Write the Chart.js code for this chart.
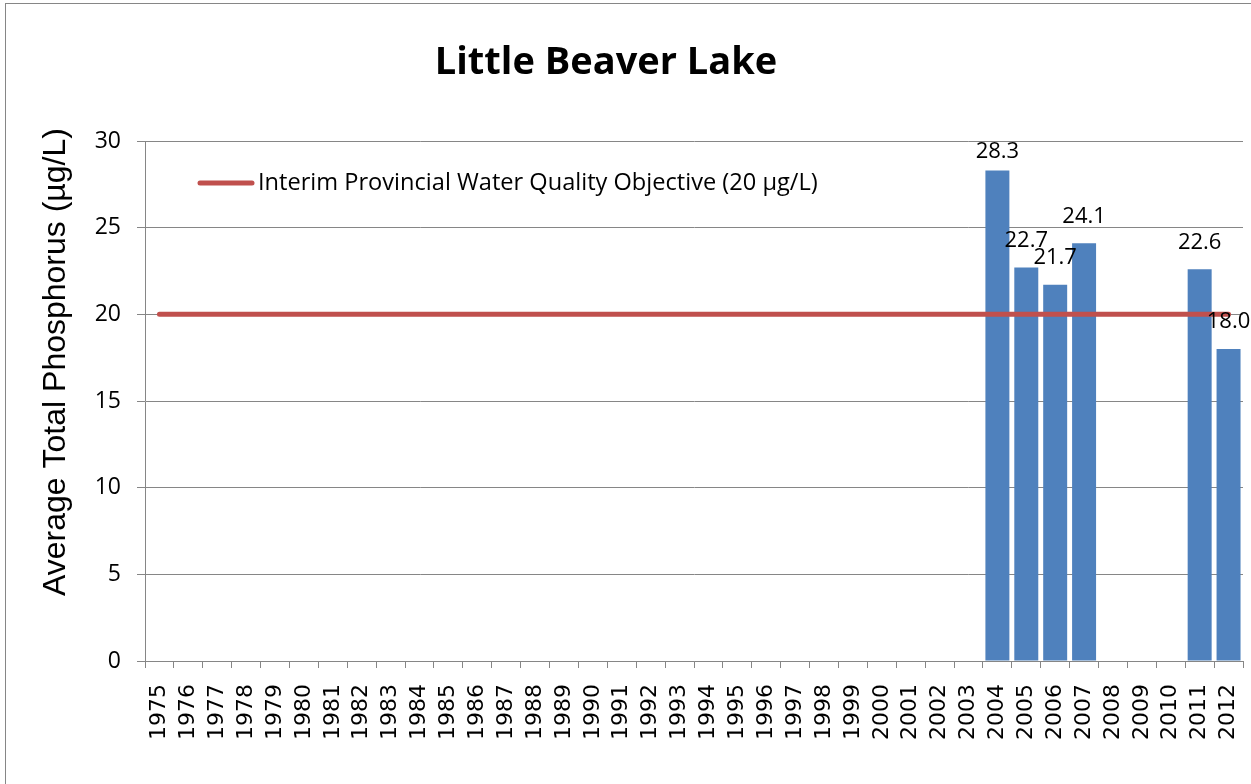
<!DOCTYPE html>
<html>
<head>
<meta charset="utf-8">
<script src="https://cdn.jsdelivr.net/npm/chart.js@4"></script>
<style>
  body { margin: 0; background: #fff; }
  #wrap { width: 1251px; height: 784px; position: relative; }
</style>
</head>
<body>
<div id="wrap"><canvas id="chart"></canvas></div>
<script>
const chartTitle = 'Little Beaver Lake';
const yAxisTitle = 'Average Total Phosphorus (µg/L)';
const years = ['1975', '1976', '1977', '1978', '1979', '1980', '1981', '1982', '1983', '1984',
    '1985', '1986', '1987', '1988', '1989', '1990', '1991', '1992', '1993', '1994',
    '1995', '1996', '1997', '1998', '1999', '2000', '2001', '2002', '2003', '2004',
    '2005', '2006', '2007', '2008', '2009', '2010', '2011', '2012'];
const phosphorus = [null, null, null, null, null, null, null, null, null, null,
    null, null, null, null, null, null, null, null, null, null,
    null, null, null, null, null, null, null, null, null, 28.3,
    22.7, 21.7, 24.1, null, null, null, 22.6, 18.0];
const objectiveLabel = 'Interim Provincial Water Quality Objective (20 µg/L)';
const objective = [20, 20, 20, 20, 20, 20, 20, 20, 20, 20,
    20, 20, 20, 20, 20, 20, 20, 20, 20, 20,
    20, 20, 20, 20, 20, 20, 20, 20, 20, 20,
    20, 20, 20, 20, 20, 20, 20, 20];
const yTicks = [0, 5, 10, 15, 20, 25, 30];

const GRAY = '#868686';

// border, title, y axis title, legend and value labels
const extras = {
    id: 'extras',
    beforeDraw(chart) {
        const ctx = chart.ctx;
        ctx.save();
        ctx.fillStyle = '#fff';
        ctx.fillRect(0, 0, chart.width, chart.height);
        ctx.strokeStyle = GRAY;
        ctx.lineWidth = 1;
        ctx.strokeRect(5.5, 3.5, 1300, 900);
        ctx.restore();
    },
    afterDraw(chart) {
        const ctx = chart.ctx;
        const area = chart.chartArea;
        ctx.save();
        ctx.fillStyle = '#000';
        ctx.textAlign = 'center';
        ctx.textBaseline = 'middle';
        ctx.font = 'bold 38px "Open Sans"';
        ctx.fillText(chartTitle, 606, 63);

        ctx.save();
        ctx.translate(56, 362);
        ctx.rotate(-Math.PI / 2);
        ctx.font = '32px "Liberation Sans"';
        ctx.fillText(yAxisTitle, 0, 0);
        ctx.restore();

        // legend
        const line = chart.data.datasets[1];
        ctx.strokeStyle = line.borderColor;
        ctx.lineWidth = 5;
        ctx.lineCap = 'round';
        ctx.beginPath();
        ctx.moveTo(area.left + 55, area.top + 42);
        ctx.lineTo(area.left + 107, area.top + 42);
        ctx.stroke();
        ctx.textAlign = 'left';
        ctx.font = '23.6px "Open Sans"';
        ctx.fillText(line.label, area.left + 113, area.top + 42);

        // value labels
        const meta = chart.getDatasetMeta(0);
        ctx.textAlign = 'center';
        ctx.font = '22px "Open Sans"';
        meta.data.forEach((bar, i) => {
            const v = chart.data.datasets[0].data[i];
            if (v == null) return;
            const y = Math.max(bar.y - 27, area.top + 11);
            ctx.fillText(v.toFixed(1), bar.x, y);
        });
        ctx.restore();
    }
};

new Chart(document.getElementById('chart'), {
    data: {
        labels: years,
        datasets: [{
            type: 'bar',
            label: 'Average Total Phosphorus',
            data: phosphorus,
            backgroundColor: '#4F81BD',
            categoryPercentage: 1,
            barPercentage: 0.83,
            order: 2
        }, {
            type: 'line',
            label: objectiveLabel,
            data: objective,
            borderColor: '#C0504D',
            borderWidth: 5,
            borderCapStyle: 'round',
            pointRadius: 0,
            fill: false,
            order: 1
        }]
    },
    options: {
        responsive: true,
        maintainAspectRatio: false,
        animation: false,
        layout: { padding: { top: 141, right: 8, bottom: 0, left: 0 } },
        plugins: {
            legend: { display: false },
            tooltip: { enabled: false },
            title: { display: false }
        },
        scales: {
            x: {
                offset: true,
                grid: { offset: true, drawOnChartArea: false, drawTicks: true, tickLength: 7, color: GRAY },
                border: { color: GRAY },
                ticks: {
                    autoSkip: false, minRotation: 90, maxRotation: 90, padding: 16,
                    color: '#000', font: { family: 'DejaVu Sans', size: 22 }
                },
                afterFit(s) {
                    s.height = 123;
                    s.paddingLeft = 0;
                    s.paddingRight = 0;
                }
            },
            y: {
                min: 0,
                max: 30,
                afterBuildTicks(s) { s.ticks = yTicks.map(v => ({ value: v })); },
                grid: { color: GRAY, tickLength: 8 },
                border: { color: GRAY },
                ticks: { padding: 16, color: '#000', font: { family: 'Open Sans', size: 23 } },
                afterFit(s) { s.width = 145; }
            }
        }
    },
    plugins: [extras]
});
</script>
</body>
</html>
